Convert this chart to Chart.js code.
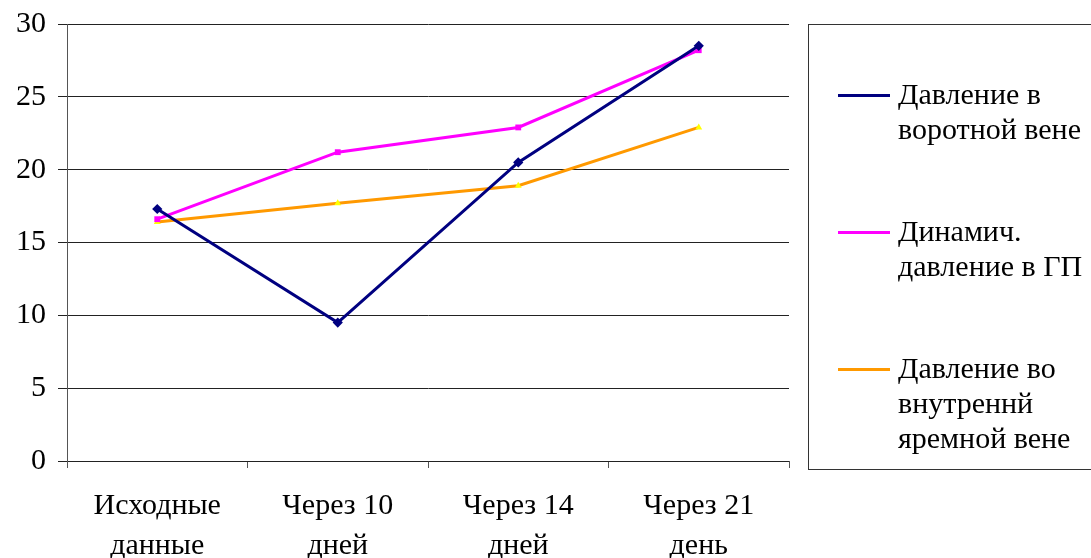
<!DOCTYPE html>
<html>
<head>
<meta charset="utf-8">
<script src="https://cdn.jsdelivr.net/npm/chart.js@4/dist/chart.umd.min.js"></script>
<style>
  body { margin: 0; background: #fff; }
  #wrap { position: relative; width: 1091px; height: 558px; overflow: hidden; }
  #legend {
    position: absolute; left: 808px; top: 24px; width: 300px; height: 446px;
    border: 1px solid #333; box-sizing: border-box;
    font-family: "Liberation Serif", serif; font-size: 30px; color: #000;
  }
  .item { position: absolute; left: 29px; line-height: 35px; }
  .swatch { position: absolute; left: 0; top: 18px; width: 52px; height: 3px; }
  .txt { position: absolute; left: 60px; top: 0; white-space: nowrap; }
</style>
</head>
<body>
<div id="wrap">
  <canvas id="chart" width="1091" height="558"></canvas>
  <div id="legend"></div>
</div>
<script>
// категории по оси X
const categories = [
    ["Исходные", "данные"],
    ["Через 10", "дней"],
    ["Через 14", "дней"],
    ["Через 21", "день"]
];

// значения серий
const portalVein = [17.3, 9.5, 20.5, 28.5];
const dynamicGP = [16.6, 21.2, 22.9, 28.2];
const jugularVein = [16.4, 17.7, 18.9, 22.9];

// подписи легенды (многострочные)
const seriesNames = [
    ["Давление в", "воротной вене"],
    ["Динамич.", "давление в ГП"],
    ["Давление во", "внутреннй", "яремной вене"]
];

const yTicks = [0, 5, 10, 15, 20, 25, 30];

const fontFamily = '"Liberation Serif", serif';
const ctx = document.getElementById('chart').getContext('2d');

const myChart = new Chart(ctx, {
    type: 'line',
    data: {
        labels: categories,
        datasets: [{
            label: seriesNames[0].join(' '),
            data: portalVein,
            borderColor: '#000080',
            backgroundColor: '#000080',
            borderWidth: 3,
            pointStyle: 'rectRot',
            pointRadius: 3
        }, {
            label: seriesNames[1].join(' '),
            data: dynamicGP,
            borderColor: '#FF00FF',
            backgroundColor: '#FF00FF',
            borderWidth: 3,
            pointStyle: 'rect',
            pointRadius: 2
        }, {
            label: seriesNames[2].join(' '),
            data: jugularVein,
            borderColor: '#FF9900',
            backgroundColor: '#FFFF00',
            borderWidth: 3,
            pointStyle: 'triangle',
            pointRadius: 4,
            pointBorderWidth: 0
        }]
    },
    options: {
        responsive: false,
        animation: false,
        layout: { padding: { top: 24, right: 302, left: 0, bottom: 0 } },
        plugins: {
            legend: { display: false },
            tooltip: { enabled: false }
        },
        elements: { line: { tension: 0 } },
        scales: {
            x: {
                offset: true,
                grid: {
                    offset: true,
                    drawOnChartArea: false,
                    drawTicks: true,
                    tickLength: 7,
                    color: '#555'
                },
                border: { display: false },
                ticks: {
                    color: '#000',
                    padding: 18,
                    maxRotation: 0,
                    font: { family: fontFamily, size: 30, lineHeight: 1.333 }
                },
                afterFit: (scale) => {
                    scale.height = 97;
                    scale.paddingLeft = 0;
                    scale.paddingRight = 0;
                }
            },
            y: {
                min: 0,
                max: 30,
                afterBuildTicks: (scale) => {
                    scale.ticks = yTicks.map(v => ({ value: v }));
                },
                grid: {
                    color: '#222',
                    tickLength: 9,
                    lineWidth: 1
                },
                border: { display: true, color: '#555' },
                ticks: {
                    color: '#000',
                    padding: 12,
                    font: { family: fontFamily, size: 30 }
                },
                afterFit: (scale) => {
                    scale.width = 67;
                    scale.paddingTop = 0;
                    scale.paddingBottom = 0;
                }
            }
        }
    }
});

// HTML-легенда в рамке справа
const legendEl = document.getElementById('legend');
const tops = [51, 188, 325];
myChart.data.datasets.forEach((ds, i) => {
    const item = document.createElement('div');
    item.className = 'item';
    item.style.top = tops[i] + 'px';
    const sw = document.createElement('div');
    sw.className = 'swatch';
    sw.style.background = ds.borderColor;
    const txt = document.createElement('div');
    txt.className = 'txt';
    txt.innerHTML = seriesNames[i].join('<br>');
    item.appendChild(sw);
    item.appendChild(txt);
    legendEl.appendChild(item);
});
</script>
</body>
</html>
